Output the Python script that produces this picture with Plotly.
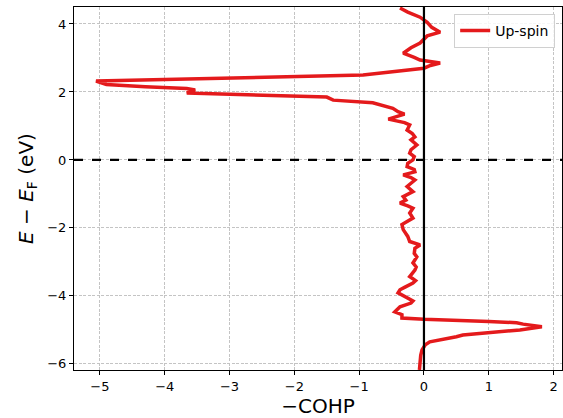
import plotly.graph_objects as go

energy = [4.47, 4.35, 4.2, 4.05, 3.9, 3.76, 3.65, 3.55, 3.44, 3.3, 3.14, 3.02, 2.94, 2.85, 2.78, 2.7,
          2.6, 2.5, 2.32, 2.22, 2.15, 2.1, 2.06, 1.97, 1.85, 1.76, 1.68, 1.59, 1.52, 1.42, 1.35, 1.2,
          1.1, 1.03, 0.88, 0.78, 0.68, 0.59, 0.44, 0.3, 0.2, 0.1, 0.0, -0.1, -0.2, -0.28, -0.35, -0.44,
          -0.52, -0.59, -0.68, -0.78, -0.93, -1.08, -1.18, -1.27, -1.35, -1.42, -1.56, -1.71, -1.9,
          -2.05, -2.25, -2.4, -2.5, -2.6, -2.75, -2.85, -3.03, -3.15, -3.24, -3.43, -3.55, -3.62,
          -3.75, -3.82, -3.91, -4.06, -4.15, -4.21, -4.32, -4.47, -4.55, -4.65, -4.69, -4.75, -4.79,
          -4.83, -4.91, -5.0, -5.08, -5.15, -5.2, -5.26, -5.35, -5.44, -5.59, -5.75, -5.88, -6.18]
cohp = [-0.37, -0.25, -0.06, 0.05, 0.12, 0.25, 0.05, 0.0, -0.06, -0.2, -0.32, -0.15, -0.06, 0.25, 0.1, 0.0,
        -0.5, -0.94, -5.06, -4.9, -4.3, -3.66, -3.53, -3.66, -1.5, -1.4, -0.79, -0.63, -0.48, -0.4, -0.3, -0.55,
        -0.3, -0.22, -0.26, -0.18, -0.14, -0.2, -0.11, -0.2, -0.22, -0.15, -0.17, -0.25, -0.26, -0.15, -0.14, -0.32,
        -0.2, -0.14, -0.2, -0.26, -0.17, -0.32, -0.28, -0.37, -0.25, -0.17, -0.22, -0.17, -0.34,
        -0.32, -0.25, -0.22, -0.06, -0.14, -0.15, -0.11, -0.17, -0.12, -0.14, -0.22, -0.13, -0.17,
        -0.3, -0.37, -0.4, -0.26, -0.17, -0.2, -0.37, -0.45, -0.34, -0.34, 0.0, 1.0, 1.43,
        1.53, 1.82, 1.48, 1.0, 0.6, 0.5, 0.35, 0.09, 0.02, -0.03, -0.05, -0.06, -0.07]

x_range = [-5.4, 2.13]
y_range = [-6.18, 4.5]

fig = go.Figure()
fig.add_trace(go.Scatter(x=cohp, y=energy, mode="lines", name="Up-spin",
                         line=dict(color="#e41a1c", width=3.5)))
fig.add_trace(go.Scatter(x=x_range, y=[0, 0], mode="lines", showlegend=False,
                         line=dict(color="black", width=2.2, dash="dash")))
fig.add_trace(go.Scatter(x=[0, 0], y=y_range, mode="lines", showlegend=False,
                         line=dict(color="black", width=2.2)))

axis_common = dict(showline=True, linecolor="black", linewidth=1, mirror=True,
                   ticks="outside", ticklen=4, tickcolor="black",
                   showgrid=True, gridcolor="#c4c4c4", griddash="3px,1.5px", gridwidth=1,
                   zeroline=False, tickfont=dict(size=13, color="black"))

fig.update_layout(
    width=563, height=418,
    margin=dict(l=74, r=1, t=7, b=48),
    plot_bgcolor="white", paper_bgcolor="white",
    font=dict(family="DejaVu Sans", color="black"),
    xaxis=dict(range=x_range, tickvals=[-5, -4, -3, -2, -1, 0, 1, 2],
               ticktext=["−5", "−4", "−3", "−2", "−1", "0", "1", "2"],
               title=dict(text="−COHP", font=dict(size=20), standoff=3), **axis_common),
    yaxis=dict(range=y_range, tickvals=[-6, -4, -2, 0, 2, 4],
               ticktext=["−6", "−4", "−2", "0", "2", "4"],
               title=dict(text="<i>E</i> − <i>E</i><sub>F</sub> (eV)", font=dict(size=20), standoff=8),
               **axis_common),
    legend=dict(x=0.986, y=0.981, xanchor="right", yanchor="top",
                bgcolor="rgba(255,255,255,0.85)", bordercolor="#d0d0d0", borderwidth=1,
                font=dict(size=14)),
    showlegend=True,
)

fig.write_html("out.html", config={"displayModeBar": False},
               post_script="document.body.style.margin='0';document.body.style.overflow='hidden';")
